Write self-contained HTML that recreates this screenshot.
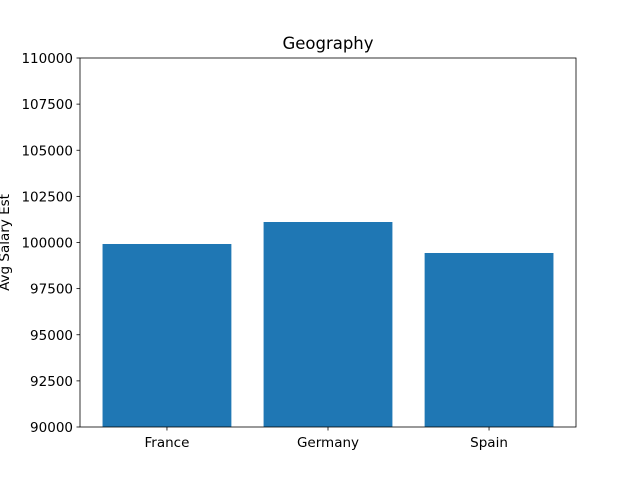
<!DOCTYPE html>
<html><head><meta charset="utf-8"><style>
body{margin:0;background:#fff;}
svg{display:block;font-family:"DejaVu Sans","Liberation Sans",sans-serif;}
</style></head><body>
<svg id="chart" width="640" height="480" viewBox="0 0 640 480">
<rect width="640" height="480" fill="#fff"/>
<g id="plot"></g>
</svg>
<script>
const categories = ["France","Germany","Spain"];
const values = [99919, 101111, 99431];
const yTicks = [90000,92500,95000,97500,100000,102500,105000,107500,110000];
const yMin = 90000, yMax = 110000;
const L=80,R=576,T=58,B=427;
const NS="http://www.w3.org/2000/svg";
const g=document.getElementById('plot');
const barW=0.8;
const n=categories.length;
const span=(n-1)+barW, xLo=-barW/2-span*0.05, xHi=(n-1)+barW/2+span*0.05;
function y(v){return B-(v-yMin)/(yMax-yMin)*(B-T);}
function x(i){return L+(i-xLo)/(xHi-xLo)*(R-L);}
const uw=(R-L)/(xHi-xLo);
function mk(t,a){const e=document.createElementNS(NS,t);for(const k in a)e.setAttribute(k,a[k]);g.appendChild(e);return e;}
categories.forEach((c,i)=>{
  const top=y(Math.max(values[i],yMin));
  const r=mk('rect',{x:x(i)-uw*barW/2,y:top,width:uw*barW,height:B-top,fill:'#1f77b4'});
  
  
  const tk=mk('line',{x1:x(i),x2:x(i),y1:B,y2:B+3.5,stroke:'#000','stroke-width':0.8});
  
  
  const t=mk('text',{x:x(i),y:B+20,'text-anchor':'middle','font-size':13.5});
  t.textContent=c;
  
  
});
yTicks.forEach(v=>{
  const tk=mk('line',{x1:L-3.5,x2:L,y1:y(v),y2:y(v),stroke:'#000','stroke-width':0.8});
  
  
  const t=mk('text',{x:L-7,y:y(v)+5,'text-anchor':'end','font-size':13.5});
  t.textContent=v;
  
  
});
const f=mk('rect',{x:L,y:T,width:R-L,height:B-T,fill:'none',stroke:'#000','stroke-width':0.8});


const ti=mk('text',{x:(L+R)/2,y:T-9,'text-anchor':'middle','font-size':16.5});
ti.textContent='Geography';


const yl=mk('text',{x:9,y:(T+B)/2,'text-anchor':'middle','font-size':13.5,transform:'rotate(-90 9 '+((T+B)/2)+')'});
yl.textContent='Avg Salary Est';


</script>
</body></html>
